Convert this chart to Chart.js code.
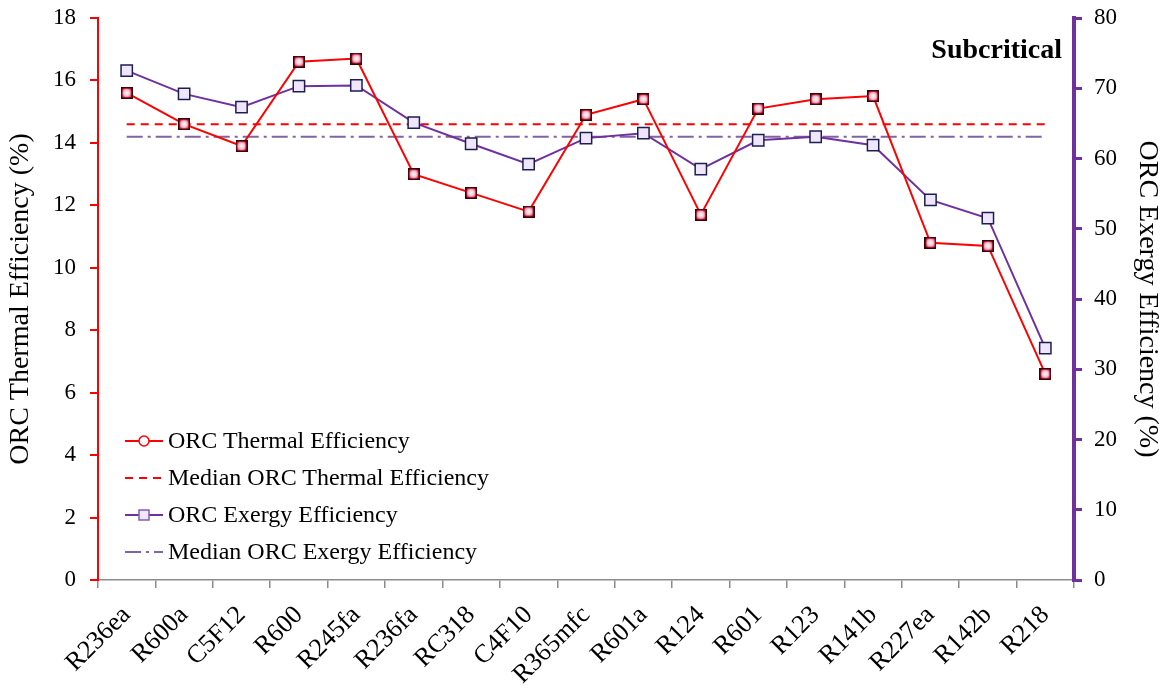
<!DOCTYPE html>
<html>
<head>
<meta charset="utf-8">
<script src="https://cdn.jsdelivr.net/npm/chart.js@4.4.0/dist/chart.umd.min.js"></script>
<style>
    body { margin: 0; background: #fff; }
    #wrap { position: relative; width: 1164px; height: 694px; }
    #legend { position: absolute; left: 125px; top: 422px; font-family: 'Liberation Serif', serif; font-size: 24px; color: #000; }
    #legend .row { height: 37px; display: flex; align-items: center; }
    #legend svg { margin-right: 5px; }
    #tag { position: absolute; right: 102px; top: 33px; font-family: 'Liberation Serif', serif; font-weight: bold; font-size: 28px; }
</style>
</head>
<body>
<div id="wrap">
    <canvas id="effChart" width="1164" height="694"></canvas>
    <div id="legend">
        <div class="row"><svg width="38" height="14"><line x1="0" y1="7" x2="38" y2="7" stroke="#ff0000" stroke-width="2"/><circle cx="19" cy="7" r="5" fill="#fff" stroke="#ff0000" stroke-width="1.5"/></svg>ORC Thermal Efficiency</div>
        <div class="row"><svg width="38" height="14"><line x1="0" y1="7" x2="38" y2="7" stroke="#ff0000" stroke-width="2" stroke-dasharray="8,6"/></svg>Median ORC Thermal Efficiency</div>
        <div class="row"><svg width="38" height="14"><line x1="0" y1="7" x2="38" y2="7" stroke="#7030a0" stroke-width="2"/><rect x="14" y="2" width="10" height="10" fill="#efe6fb" stroke="#7f5fb0" stroke-width="1.5"/></svg>ORC Exergy Efficiency</div>
        <div class="row"><svg width="38" height="14"><line x1="0" y1="7" x2="38" y2="7" stroke="#8064a2" stroke-width="2" stroke-dasharray="16,5,3,5"/></svg>Median ORC Exergy Efficiency</div>
    </div>
    <div id="tag">Subcritical</div>
</div>
<script>
// Working fluids (x categories)
const fluids = ['R236ea', 'R600a', 'C5F12', 'R600', 'R245fa', 'R236fa', 'RC318', 'C4F10', 'R365mfc',
    'R601a', 'R124', 'R601', 'R123', 'R141b', 'R227ea', 'R142b', 'R218'];

// ORC thermal efficiency (%), left axis
const thermalEff = [15.6, 14.6, 13.9, 16.6, 16.7, 13.0, 12.4, 11.8, 14.9, 15.4, 11.7, 15.1, 15.4, 15.5, 10.8, 10.7, 6.6];
const medianThermal = 14.6;

// ORC exergy efficiency (%), right axis
const exergyEff = [72.5, 69.2, 67.3, 70.3, 70.4, 65.1, 62.1, 59.2, 62.9, 63.6, 58.5, 62.6, 63.1, 61.9, 54.1, 51.5, 33.0];
const medianExergy = 63.1;

// Axis ticks
const thermalTicks = [0, 2, 4, 6, 8, 10, 12, 14, 16, 18];
const exergyTicks = [0, 10, 20, 30, 40, 50, 60, 70, 80];

const serif = 'Liberation Serif';

// little square marker with a shaded centre, like the original thermal points
function makeThermalMarker() {
    const c = document.createElement('canvas');
    c.width = 12; c.height = 12;
    const g = c.getContext('2d');
    g.fillStyle = '#3a0000';
    g.fillRect(0, 0, 12, 12);
    const grad = g.createRadialGradient(6, 6, 0, 6, 6, 6);
    grad.addColorStop(0, '#e8fff8');
    grad.addColorStop(0.5, '#ffc4d4');
    grad.addColorStop(1, '#e0003a');
    g.fillStyle = grad;
    g.fillRect(1.5, 1.5, 9, 9);
    return c;
}

// keep the plot area where the original has it (tick labels may hang over the top)
function noVerticalOverflow(scale) {
    scale.paddingTop = 0;
    scale.paddingBottom = 0;
}

const ctx = document.getElementById('effChart').getContext('2d');
const effChart = new Chart(ctx, {
    type: 'line',
    data: {
        labels: fluids,
        datasets: [
            {
                label: 'ORC Thermal Efficiency',
                data: thermalEff,
                yAxisID: 'y',
                borderColor: '#ff0000',
                borderWidth: 2,
                pointStyle: makeThermalMarker(),
                pointRadius: 6,
                tension: 0,
                order: 1
            },
            {
                label: 'Median ORC Thermal Efficiency',
                data: fluids.map(() => medianThermal),
                yAxisID: 'y',
                borderColor: '#ff0000',
                borderWidth: 2,
                borderDash: [8, 6],
                pointRadius: 0,
                order: 3
            },
            {
                label: 'ORC Exergy Efficiency',
                data: exergyEff,
                yAxisID: 'y1',
                borderColor: '#7030a0',
                borderWidth: 2,
                pointStyle: 'rect',
                pointRadius: 8,
                pointBackgroundColor: '#efe6fb',
                pointBorderColor: '#1e1e50',
                pointBorderWidth: 1.5,
                tension: 0,
                order: 2
            },
            {
                label: 'Median ORC Exergy Efficiency',
                data: fluids.map(() => medianExergy),
                yAxisID: 'y1',
                borderColor: '#8064a2',
                borderWidth: 2,
                borderDash: [16, 5, 3, 5],
                pointRadius: 0,
                order: 4
            }
        ]
    },
    options: {
        responsive: false,
        animation: false,
        layout: { padding: { top: 18, left: 4, right: 0, bottom: 0 } },
        plugins: {
            legend: { display: false },
            tooltip: { enabled: false }
        },
        scales: {
            x: {
                offset: true,
                grid: { offset: true, drawOnChartArea: false, drawTicks: true, tickLength: 8, color: '#8c8c8c', lineWidth: 1.5 },
                border: { color: '#8c8c8c', width: 1.5 },
                ticks: {
                    color: '#000',
                    font: { family: serif, size: 26 },
                    minRotation: 45,
                    maxRotation: 45,
                    autoSkip: false,
                    padding: 12
                },
                afterFit: function (scale) { scale.height = 114; }
            },
            y: {
                position: 'left',
                min: 0,
                max: 18,
                afterBuildTicks: function (scale) { scale.ticks = thermalTicks.map(v => ({ value: v })); },
                grid: { drawOnChartArea: false, drawTicks: true, tickLength: 8, color: '#ff0000', lineWidth: 2 },
                border: { color: '#ff0000', width: 2 },
                ticks: { color: '#000', font: { family: serif, size: 23 }, padding: 14 },
                title: {
                    display: true,
                    text: 'ORC Thermal Efficiency (%)',
                    color: '#000',
                    font: { family: serif, size: 28 },
                    padding: { top: 0, bottom: 0 }
                },
                afterFit: function (scale) {
                    scale.width = 94;
                    noVerticalOverflow(scale);
                }
            },
            y1: {
                position: 'right',
                min: 0,
                max: 80,
                afterBuildTicks: function (scale) { scale.ticks = exergyTicks.map(v => ({ value: v })); },
                grid: { drawOnChartArea: false, drawTicks: true, tickLength: 8, color: '#7030a0', lineWidth: 3 },
                border: { color: '#7030a0', width: 4 },
                ticks: { color: '#000', font: { family: serif, size: 23 }, padding: 12 },
                title: {
                    display: true,
                    text: 'ORC Exergy Efficiency (%)',
                    color: '#000',
                    font: { family: serif, size: 28 },
                    padding: { top: 0, bottom: 4 }
                },
                afterFit: function (scale) {
                    scale.width = 90;
                    noVerticalOverflow(scale);
                }
            }
        }
    }
});
</script>
</body>
</html>
